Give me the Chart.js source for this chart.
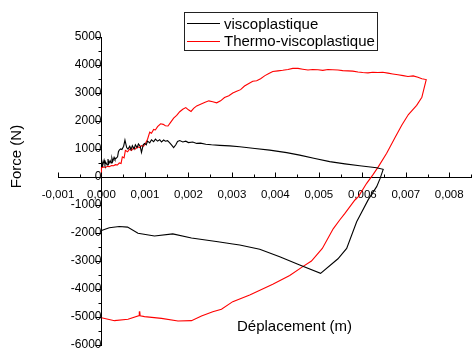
<!DOCTYPE html>
<html><head><meta charset="utf-8">
<script src="https://cdn.jsdelivr.net/npm/chart.js@4.4.0/dist/chart.umd.min.js"></script>
<style>html,body{margin:0;padding:0;background:#fff;}canvas{display:block;}</style>
</head><body>
<canvas id="c" width="473" height="351"></canvas>
<script>
// ---- data (x in m, force in N) ----
const SERIES_NAMES = ['viscoplastique', 'Thermo-viscoplastique'];
const X_TITLE = 'Déplacement (m)';
const Y_TITLE = 'Force (N)';

const BLACK_X = [0,0.00001,0.00003,0.00006,0.00008,0.00010,0.00013,0.00015,0.00017,0.00020,0.00022,0.00024,0.00026,0.00029,0.00031,0.00033,0.00037,0.00039,0.00041,0.00044,0.00047,0.00051,0.00054,0.00058,0.00061,0.00065,0.00068,0.00071,0.00075,0.00078,0.00082,0.00085,0.00089,0.00092,0.00096,0.00099,0.00103,0.00106,0.00111,0.00115,0.00120,0.00124,0.00129,0.00134,0.00138,0.00143,0.00147,0.00152,0.00157,0.00161,0.00166,0.00171,0.00175,0.00180,0.00187,0.00194,0.00200,0.00210,0.00219,0.00228,0.00240,0.00253,0.00272,0.00295,0.00318,0.00353,0.00387,0.00426,0.00456,0.00491,0.00525,0.00560,0.00594,0.00633,0.00648,
  0.00641,0.00633,0.00614,0.00587,0.00564,0.00544,0.00504,
  0.00456,0.00410,0.00364,0.00318,0.00302,0.00268,0.00207,0.00164,0.00122,0.00084,0.00060,0.00041,0.00018,0];
const BLACK_F = [380,560,420,600,450,520,430,640,480,580,500,680,560,700,620,660,720,900,960,1000,980,1100,1320,1050,1000,1100,980,1120,1000,1150,1050,1180,1100,880,1150,1200,1150,1280,1220,1330,1260,1350,1280,1330,1250,1320,1280,1300,1220,1150,1050,1150,1270,1300,1250,1280,1230,1250,1200,1210,1170,1150,1130,1110,1080,1020,960,870,780,660,550,470,400,330,275,
  -50,-345,-800,-1600,-2550,-2920,-3440,
  -3143,-2845,-2583,-2430,-2393,-2310,-2180,-2030,-2107,-2010,-1790,-1770,-1810,-1910];

const RED_X = [0,0,0.00005,0.00009,0.00014,0.00018,0.00023,0.00028,0.00032,0.00037,0.00041,0.00045,0.00048,0.00052,0.00055,0.00060,0.00065,0.00069,0.00074,0.00078,0.00083,0.00088,0.00092,0.00097,0.00101,0.00106,0.00111,0.00115,0.00120,0.00124,0.00129,0.00136,0.00142,0.00147,0.00153,0.00159,0.00166,0.00173,0.00180,0.00187,0.00194,0.00200,0.00206,0.00212,0.00219,0.00228,0.00237,0.00247,0.00256,0.00265,0.00274,0.00283,0.00293,0.00302,0.00311,0.00320,0.00329,0.00339,0.00348,0.00357,0.00366,0.00376,0.00385,0.00394,0.00406,0.00417,0.00429,0.00440,0.00452,0.00463,0.00475,0.00486,0.00498,0.00509,0.00521,0.00532,0.00544,0.00555,0.00567,0.00578,0.00590,0.00601,0.00613,0.00624,0.00636,0.00647,0.00659,0.00670,0.00682,0.00694,0.00705,0.00717,0.00728,0.00737,0.00747,
  0.00742,0.00737,0.00725,0.00706,0.00691,0.00675,0.00656,0.00637,0.00625,0.00610,0.00591,0.00583,0.00560,0.00548,0.00533,0.00508,0.00483,0.00463,0.00433,0.00394,0.00341,0.00302,0.00276,0.00256,0.00230,0.00207,0.00176,0.00138,0.00099,0.00089,0.00088,0.00087,0.00061,0.00030,0];
const RED_F = [0,330,360,340,380,370,410,400,440,430,500,480,720,680,950,900,1000,950,1040,1000,1080,1050,1120,1100,1200,1350,1600,1560,1700,1680,1800,1900,1880,1830,1820,1950,2100,2200,2330,2420,2480,2400,2340,2450,2540,2600,2660,2720,2690,2650,2720,2840,2900,3000,3060,3120,3250,3340,3420,3440,3510,3620,3700,3770,3790,3810,3840,3880,3880,3850,3820,3840,3830,3810,3840,3830,3820,3800,3790,3780,3750,3730,3720,3740,3730,3740,3710,3680,3650,3620,3590,3610,3560,3510,3480,
  3167,2850,2560,2230,1860,1400,845,370,95,-226,-702,-821,-1300,-1536,-1850,-2550,-3000,-3200,-3520,-3830,-4214,-4452,-4726,-4810,-4964,-5131,-5143,-5048,-4988,-4960,-4800,-4950,-5083,-5131,-5024];

// ---- axis ticks ----
const X_TICKS = [-0.001,0,0.001,0.002,0.003,0.004,0.005,0.006,0.007,0.008];
const X_TICK_LABELS = ['-0,001','0,000','0,001','0,002','0,003','0,004','0,005','0,006','0,007','0,008'];
const X_MINOR = [-0.0005,0.0005,0.0015,0.0025,0.0035,0.0045,0.0055,0.0065,0.0075,0.0085];
const Y_TICKS = [-6000,-5000,-4000,-3000,-2000,-1000,0,1000,2000,3000,4000,5000];
const Y_TICK_LABELS = ['-6000','-5000','-4000','-3000','-2000','-1000','0','1000','2000','3000','4000','5000'];
const Y_MINOR = [-5500,-4500,-3500,-2500,-1500,-500,500,1500,2500,3500,4500];

const FONT = 'Liberation Sans, Arial, Helvetica, sans-serif';
Chart.defaults.font.family = FONT;
Chart.defaults.color = '#000';

const toPts = (xs, ys) => xs.map((x, i) => ({x: x, y: ys[i]}));
const noPad = s => { s.paddingTop = 0; s.paddingBottom = 0; s.paddingLeft = 0; s.paddingRight = 0; };

const decor = {
  id: 'decor',
  afterDraw(chart) {
    const {ctx, scales: {x, y}} = chart;
    const ax = Math.round(x.getPixelForValue(0)) + 0.5;
    const ay = Math.round(y.getPixelForValue(0)) + 0.5;
    ctx.save();
    ctx.strokeStyle = '#000';
    ctx.lineWidth = 1;
    ctx.beginPath();
    X_TICKS.forEach(v => { const p = Math.round(x.getPixelForValue(v)) + 0.5; ctx.moveTo(p, ay); ctx.lineTo(p, ay - 5); });
    X_MINOR.forEach(v => { const p = Math.round(x.getPixelForValue(v)) + 0.5; ctx.moveTo(p, ay); ctx.lineTo(p, ay - 3); });
    Y_TICKS.forEach(v => { const p = Math.round(y.getPixelForValue(v)) + 0.5; ctx.moveTo(ax, p); ctx.lineTo(ax - 6, p); });
    Y_MINOR.forEach(v => { const p = Math.round(y.getPixelForValue(v)) + 0.5; ctx.moveTo(ax, p); ctx.lineTo(ax - 3, p); });
    ctx.stroke();

    // axis titles
    ctx.fillStyle = '#000';
    ctx.font = '15px ' + FONT;
    ctx.textBaseline = 'alphabetic';
    ctx.textAlign = 'left';
    ctx.fillText(X_TITLE, 237, 331);
    ctx.save();
    ctx.translate(20.5, 156.5);
    ctx.rotate(-Math.PI / 2);
    ctx.textAlign = 'center';
    ctx.fillText(Y_TITLE, 0, 0);
    ctx.restore();

    // legend
    ctx.strokeStyle = '#222';
    ctx.lineWidth = 1;
    ctx.strokeRect(184.5, 12.5, 193, 38);
    chart.data.datasets.forEach((ds, i) => {
      const ly = Math.round(23 + i * 18) + 0.5;
      ctx.strokeStyle = ds.borderColor;
      ctx.lineWidth = 1.2;
      ctx.beginPath();
      ctx.moveTo(187, ly);
      ctx.lineTo(220, ly);
      ctx.stroke();
      ctx.fillStyle = '#000';
      ctx.textAlign = 'left';
      ctx.fillText(ds.label, 224, 28.7 + i * 17.6);
    });
    ctx.restore();
  }
};

new Chart(document.getElementById('c'), {
  type: 'scatter',
  data: {
    datasets: [
      {label: SERIES_NAMES[0], data: toPts(BLACK_X, BLACK_F), showLine: true, borderColor: '#000000', borderWidth: 1.1, pointRadius: 0, tension: 0, fill: false},
      {label: SERIES_NAMES[1], data: toPts(RED_X, RED_F), showLine: true, borderColor: '#ff0000', borderWidth: 1.1, pointRadius: 0, tension: 0, fill: false}
    ]
  },
  options: {
    responsive: false,
    animation: false,
    layout: {padding: {left: 58, right: 2, top: 37, bottom: 6}},
    plugins: {legend: {display: false}, tooltip: {enabled: false}, title: {display: false}},
    scales: {
      x: {
        type: 'linear', min: -0.001, max: 0.0085, position: {y: 0},
        grid: {drawOnChartArea: false, drawTicks: false},
        border: {display: true, color: '#000', width: 1},
        afterBuildTicks: s => { s.ticks = X_TICKS.map(v => ({value: v})); },
        afterFit: noPad,
        ticks: {autoSkip: false, maxRotation: 0, minRotation: 0, padding: 11, color: '#000', font: {size: 11.5},
          callback: (v, i) => X_TICK_LABELS[i]}
      },
      y: {
        type: 'linear', min: -6000, max: 5000, position: {x: 0},
        grid: {drawOnChartArea: false, drawTicks: false},
        border: {display: true, color: '#000', width: 1},
        afterBuildTicks: s => { s.ticks = Y_TICKS.map(v => ({value: v})); },
        afterFit: noPad,
        ticks: {autoSkip: false, padding: 11, color: '#000', font: {size: 12},
          callback: (v, i) => Y_TICK_LABELS[i]}
      }
    }
  },
  plugins: [decor]
});
</script>
</body></html>
